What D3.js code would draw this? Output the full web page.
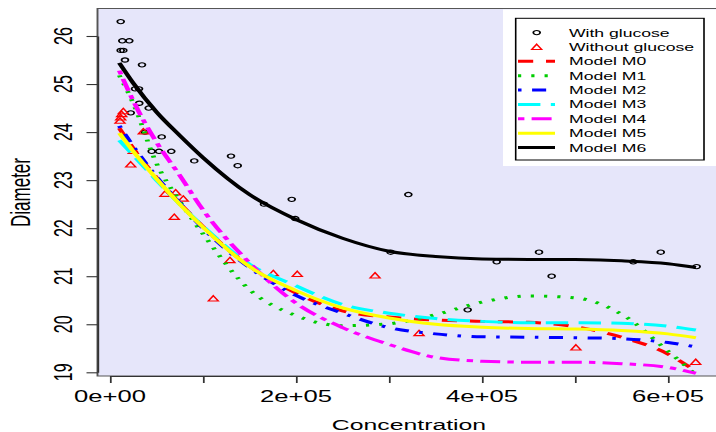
<!DOCTYPE html>
<html>
<head>
<meta charset="utf-8">
<script src="https://cdn.jsdelivr.net/npm/d3@7"></script>
<style>
  body { margin: 0; background: #ffffff; }
  svg { display: block; }
  text { font-family: "Liberation Sans", Arial, Helvetica, sans-serif; fill: #000; }
</style>
</head>
<body>
<svg id="chart" width="716" height="432"></svg>
<script>
// ---- observations ----
const withGlucoseConc = [11500, 13200, 20750, 11500, 14300, 16100, 34400, 26900, 31200, 31500,
  41600, 22300, 37600, 55600, 44800, 52700, 65900, 90600, 130100, 137300,
  165600, 195400, 199200, 320800, 301800, 415800, 384600, 461300, 474900, 562700,
  592200, 630800];
const withGlucoseDiam = [26.3, 25.9, 25.9, 25.7, 25.7, 25.5, 25.4, 24.9, 24.9, 24.6,
  24.5, 24.4, 24.0, 23.9, 23.6, 23.6, 23.6, 23.4, 23.5, 23.3,
  22.5, 22.6, 22.2, 22.7, 21.5, 21.3, 20.3, 21.5, 21.0, 21.3,
  21.5, 21.2];

const withoutGlucoseConc = [14300, 12600, 11500, 10800, 35800, 25000, 22300, 59100, 70600, 78800,
  69100, 129000, 111100, 175600, 201400, 285000, 332300, 501000, 629800];
const withoutGlucoseDiam = [24.42, 24.36, 24.29, 24.22, 24.0, 23.59, 23.31, 22.7, 22.73, 22.6,
  22.22, 21.32, 20.52, 21.05, 21.03, 21.0, 19.8, 19.5, 19.2];

// ---- fitted model curves ----
const modelConc = [10000, 25000, 50000, 75000, 100000, 150000, 200000, 250000,
  300000, 350000, 400000, 450000, 500000, 550000, 600000, 630000];
const modelM0 = [24.08, 23.66, 23.05, 22.52, 22.03, 21.21, 20.65, 20.28, 20.15, 20.09, 20.06, 20.04, 19.95, 19.73, 19.38, 19.02];
const modelM1 = [25.18, 24.6, 23.35, 22.56, 21.88, 20.72, 20.18, 19.97, 20.01, 20.2, 20.46, 20.59, 20.55, 20.21, 19.44, 18.95];
const modelM2 = [24.13, 23.7, 23.07, 22.52, 22.0, 21.18, 20.6, 20.23, 19.93, 19.8, 19.74, 19.73, 19.72, 19.7, 19.62, 19.53];
const modelM3 = [23.83, 23.52, 23.0, 22.5, 22.04, 21.25, 20.8, 20.41, 20.23, 20.12, 20.06, 20.03, 20.03, 20.02, 19.96, 19.88];
const modelM4 = [25.28, 24.65, 23.79, 23.1, 22.38, 21.28, 20.44, 19.93, 19.58, 19.31, 19.23, 19.21, 19.21, 19.18, 19.1, 18.98];
const modelM5 = [23.98, 23.6, 23.03, 22.5, 22.02, 21.2, 20.7, 20.34, 20.13, 20.0, 19.94, 19.91, 19.9, 19.87, 19.8, 19.72];
const modelM6 = [25.44, 25.02, 24.42, 23.93, 23.47, 22.7, 22.18, 21.79, 21.52, 21.41, 21.36, 21.35, 21.35, 21.32, 21.26, 21.18];

const modelNames = ["Model M0", "Model M1", "Model M2", "Model M3", "Model M4", "Model M5", "Model M6"];
const modelColors = ["#FF0000", "#00CD00", "#0000FF", "#00FFFF", "#FF00FF", "#FFFF00", "#000000"];
const modelDashes = ["9.5,8", "2,6.3", "2.2,6.6,8.8,6.6", "14,6.5", "4,4.5,12.5,4.5", null, null];

const xTicks = [0, 100000, 200000, 300000, 400000, 500000, 600000];
const xTickLabels = ["0e+00", "", "2e+05", "", "4e+05", "", "6e+05"];
const yTicks = [19, 20, 21, 22, 23, 24, 25, 26];
const pointLabels = ["With glucose", "Without glucose"];

// ---- layout (device is wider than tall: everything drawn in a stretched frame) ----
const SX = 1.6;
const u = px => px / SX;

const svg = d3.select("#chart");
const root = svg.append("g").attr("transform", `scale(${SX},1)`);

const x = d3.scaleLinear().domain([0, 600000]).range([u(110), u(668)]);
const y = d3.scaleLinear().domain([19, 26]).range([372.3, 36]);

const plot = { left: u(97.5), top: 8.5, right: u(740), bottom: 376 };

// panel background
root.append("rect")
  .attr("x", plot.left).attr("y", plot.top)
  .attr("width", plot.right - plot.left).attr("height", plot.bottom - plot.top)
  .attr("fill", "#E6E6FA");

// white band behind the legend
root.append("rect")
  .attr("x", u(503)).attr("y", 9.5)
  .attr("width", u(740) - u(503)).attr("height", 166 - 9.5)
  .attr("fill", "#ffffff");

// frame
root.append("path")
  .attr("d", `M${plot.right},${plot.top} H${plot.left} V${plot.bottom} H${plot.right}`)
  .attr("fill", "none").attr("stroke", "#555").attr("stroke-width", 1.2);

// axes
const xAxis = root.append("g").attr("transform", `translate(0,${plot.bottom})`)
  .call(d3.axisBottom(x).tickValues(xTicks).tickSize(7).tickSizeOuter(0).tickFormat(""));
const yAxis = root.append("g").attr("transform", `translate(${plot.left},0)`)
  .call(d3.axisLeft(y).tickValues(yTicks).tickSize(u(11)).tickSizeOuter(0).tickFormat(""));
[xAxis, yAxis].forEach(a => {
  a.selectAll("path,line").attr("stroke", "#333").attr("stroke-width", 1.1);
});

root.append("g").selectAll("text")
  .data(xTicks.filter((d, i) => xTickLabels[i] !== ""))
  .join("text")
  .attr("x", d => x(d)).attr("y", 401.7)
  .attr("text-anchor", "middle").attr("font-size", 16)
  .text(d => xTickLabels[xTicks.indexOf(d)]);

root.append("g").selectAll("text")
  .data(yTicks)
  .join("text")
  .attr("transform", d => `translate(${u(71.7)},${y(d)}) rotate(-90)`)
  .attr("text-anchor", "middle").attr("font-size", 16)
  .text(d => d);

root.append("text")
  .attr("x", u(409)).attr("y", 430)
  .attr("text-anchor", "middle").attr("font-size", 15.5)
  .text("Concentration");

root.append("text")
  .attr("transform", `translate(${u(30)},192.5) rotate(-90)`)
  .attr("text-anchor", "middle").attr("font-size", 17)
  .text("Diameter");

// clipped plotting region
root.append("clipPath").attr("id", "clip")
  .append("rect")
  .attr("x", plot.left).attr("y", plot.top)
  .attr("width", plot.right - plot.left).attr("height", plot.bottom - plot.top);
const area = root.append("g").attr("clip-path", "url(#clip)");

const R = 2.3;
const triPath = `M0,${-1.555 * R} L${1.347 * R},${0.778 * R} L${-1.347 * R},${0.778 * R} Z`;

// points
area.append("g").selectAll("circle")
  .data(withGlucoseConc.map((c, i) => [c, withGlucoseDiam[i]]))
  .join("circle")
  .attr("cx", d => x(d[0])).attr("cy", d => y(d[1])).attr("r", 2.15)
  .attr("fill", "none").attr("stroke", "#000").attr("stroke-width", 1.1);

area.append("g").selectAll("path")
  .data(withoutGlucoseConc.map((c, i) => [c, withoutGlucoseDiam[i]]))
  .join("path")
  .attr("d", triPath)
  .attr("transform", d => `translate(${x(d[0])},${y(d[1])})`)
  .attr("fill", "none").attr("stroke", "#FF0000").attr("stroke-width", 1.1);

// model curves
const models = [modelM0, modelM1, modelM2, modelM3, modelM4, modelM5, modelM6];
const line = d3.line()
  .x((d, i) => x(modelConc[i]))
  .y(d => y(d))
  .curve(d3.curveMonotoneX);

models.forEach((vals, k) => {
  area.append("path")
    .attr("d", line(vals))
    .attr("fill", "none")
    .attr("stroke", modelColors[k])
    .attr("stroke-width", 3)
    .attr("stroke-dasharray", modelDashes[k])
    .attr("stroke-linecap", "butt");
});

// legend
const legend = root.append("g");
legend.append("rect")
  .attr("x", u(515.7)).attr("y", 18.3)
  .attr("width", u(704) - u(515.7)).attr("height", 160 - 18.3)
  .attr("fill", "#ffffff").attr("stroke", "#000").attr("stroke-width", 1);

const rowY = i => 32.6 + i * 14.37;
const symX = u(536.7);
const textX = u(569);

legend.append("circle")
  .attr("cx", symX).attr("cy", rowY(0)).attr("r", 2.15)
  .attr("fill", "none").attr("stroke", "#000").attr("stroke-width", 1.1);
legend.append("path")
  .attr("d", triPath).attr("transform", `translate(${symX},${rowY(1) + 0.8})`)
  .attr("fill", "none").attr("stroke", "#FF0000").attr("stroke-width", 1.1);

modelNames.forEach((name, k) => {
  legend.append("line")
    .attr("x1", u(518)).attr("x2", u(555))
    .attr("y1", rowY(k + 2)).attr("y2", rowY(k + 2))
    .attr("stroke", modelColors[k]).attr("stroke-width", 3)
    .attr("stroke-dasharray", modelDashes[k]);
});

legend.selectAll("text.lab")
  .data(pointLabels.concat(modelNames))
  .join("text")
  .attr("class", "lab")
  .attr("x", textX).attr("y", (d, i) => rowY(i) + 4)
  .attr("font-size", 11)
  .text(d => d);
</script>
</body>
</html>
